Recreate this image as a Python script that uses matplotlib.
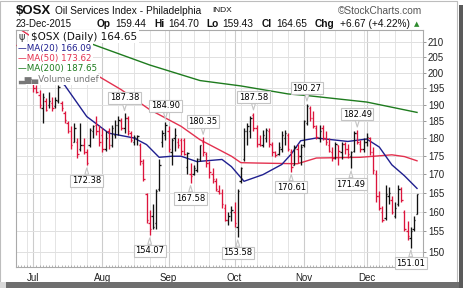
import numpy as np
import pandas as pd
import matplotlib
matplotlib.use("Agg")
import matplotlib.pyplot as plt
from matplotlib.patches import Rectangle
from matplotlib.ticker import FixedLocator, NullLocator

# Торгові дні: 24 червня - 23 грудня 2015 (без свят)
holidays = ["2015-07-03", "2015-09-07", "2015-11-26"]
dates = pd.bdate_range("2015-06-24", "2015-12-23")
dates = dates[~dates.isin(pd.to_datetime(holidays))]

# OHLC по днях (червень, липень, серпень, вересень, жовтень, листопад, грудень)
opens = [209, 207, 206.5, 204, 201.5,
         197, 195, 193, 189, 191, 190, 190.5, 189.5, 191, 190.5, 187.5, 184.5, 182, 179, 179, 177, 178, 176,
         178, 182, 184, 182,
         181, 177, 182, 178, 181, 184, 185, 183, 186, 181.5, 179, 180, 178, 173, 164.5, 157, 159, 157, 166, 179, 181,
         182, 176, 180, 179, 179.5, 179.5, 172, 170, 170, 171, 174, 179, 175.5, 173, 170, 168, 165.5, 165, 161, 158, 160,
         160, 156, 168, 174, 182, 182, 187, 183, 178.3, 178, 180, 182, 178, 176, 175.5, 177, 180, 181, 176, 172.5, 177, 175,
         178, 184.5, 189, 186, 183, 180, 183, 180, 178, 176, 174.5, 178, 176, 178.5, 177, 175, 176.5, 181.5, 178.5, 177,
         179, 180, 176, 170, 164, 160, 158.5, 164, 163, 159, 162, 166, 160, 155, 153.5, 155.5, 159.44]
highs = [210, 208, 207.5, 205, 203,
         197.5, 196, 194.5, 193.5, 192, 194, 192.5, 192.5, 196, 191, 188, 185, 183.5, 184.5, 180, 184.5, 180, 177,
         183, 184, 186.5, 184,
         183, 182, 183, 184, 185.5, 186.5, 186, 187.38, 186.5, 182, 181, 181, 178.7, 174, 165, 160.5, 162, 166, 174, 182.5, 184.9,
         183.5, 180, 183, 180, 180, 180, 176, 173, 172.5, 174.5, 178.2, 180.35, 176.2, 173.5, 171.5, 169, 167, 166, 162, 160, 161.5,
         162.5, 166, 172, 183, 184.5, 186.5, 187.58, 184, 181, 182.5, 183, 183, 179, 176.5, 179, 182, 182.5, 181.5, 177, 178, 178.5, 178.5,
         185.5, 190.27, 189.5, 188, 184, 184, 184, 182, 180, 177.5, 179, 178, 179, 179, 178.5, 176.5, 182, 182.49, 179.5, 180,
         181.5, 180.5, 177.5, 171, 165.3, 161.5, 167, 166.5, 164, 162.5, 167, 166.5, 160.5, 157.5, 156, 159, 164.70]
lows = [206, 204.5, 203.5, 200, 199.5,
        194, 193.5, 189, 184.5, 188, 189, 188, 189, 190.5, 188, 184.5, 181.5, 177, 179, 174.5, 176.5, 175.4, 172.38,
        177.5, 180, 181, 177.8,
        176, 176.5, 177, 177.5, 180, 181, 182.5, 181.5, 181, 179, 178.2, 178, 172.4, 168, 157, 154.07, 155.5, 155.5, 165.5, 177.5, 179.5,
        176, 172.5, 176.5, 177.3, 175.3, 175.3, 170, 167.58, 169.8, 170.5, 173.5, 175, 172, 169, 167.5, 165.5, 164.5, 161, 157.5, 156.5, 157.5,
        156, 153.58, 167.5, 173.5, 178, 180, 182, 177.5, 177.8, 177.5, 179, 177.5, 175, 174.8, 175.2, 176, 178, 176.5, 170.61, 172.5, 173, 172.5,
        177.5, 184, 185, 183, 179.8, 179, 179.5, 178.2, 176, 173.7, 174, 172.5, 174, 175.5, 174.5, 171.49, 176.2, 178.5, 176.2, 176,
        177.8, 175.3, 170, 162.5, 160.5, 157.3, 158, 162, 159.3, 158.3, 161.5, 162.5, 155, 153, 151.01, 155, 159.43]
closes = [206.5, 205, 206, 200.5, 201.5,
          195, 194, 190, 192.5, 188.5, 191, 189, 191.5, 195.5, 189, 185.5, 182, 178, 183, 175.5, 178, 176, 173,
          182.5, 183.5, 182, 179,
          177, 180, 178, 183, 184, 185.5, 183, 186, 182, 179.5, 180.5, 180.8, 173.5, 168.5, 158, 155.5, 156, 165.5, 172.5, 181.5, 184,
          177, 179.5, 181, 178, 176.5, 175.5, 175.7, 169.5, 171.5, 174, 178, 176, 173, 170.5, 168.5, 166, 165, 162, 158, 159, 160.5,
          157, 165.5, 171.5, 182, 183.5, 186, 183, 178.5, 178, 181, 182.5, 178.5, 176, 175.3, 177.5, 181, 181.5, 177, 172, 177.5, 175, 177.5,
          185, 189.5, 186, 183.5, 180.5, 182, 180, 179, 176.5, 174.5, 178.5, 176.5, 178.5, 177, 175.5, 176, 181.5, 179, 177, 179,
          180.5, 176, 171, 164, 161, 158, 164.5, 165, 160, 161, 166, 163, 155.5, 153.8, 155, 157.98, 164.65]

# Ковзні середні (номер торгового дня, 0 = 1 липня)
ma20_day = [-5, 5, 10, 17, 24, 32, 36, 40, 44, 47, 52, 56, 60, 63, 67, 73, 79, 82, 85, 90, 100, 106, 110, 114, 118, 122]
ma20_val = [206, 200, 196, 186.4, 181.5, 180.1, 178.2, 174.6, 174.9, 174.9, 173.4, 173.7, 174.0, 172.0, 168.0, 169.8,
            172.6, 175.5, 179.3, 180.1, 179.1, 179.8, 177.5, 172.5, 169.5, 166.09]
ma50_day = [-5, 0, 20, 28, 34, 37, 47, 53, 60, 63, 66, 71, 84, 90, 104, 114, 118, 122]
ma50_val = [215, 211.5, 199.3, 194.6, 190.5, 188.5, 183.5, 179.6, 176.3, 174.9, 173.1, 173.0, 172.8, 174.4, 174.6, 175.3,
            174.8, 173.62]
ma200_day = [-5, 7, 20, 37, 53, 66, 81, 87, 106, 122]
ma200_val = [216.5, 214, 208.9, 202.5, 197.5, 195.8, 193.3, 192.8, 190.8, 187.65]

# Підписані вершини і западини (номер дня)
peak_days = [29, 42, 54, 70, 87, 103]
trough_days = [17, 37, 50, 65, 82, 101, 120]

yticks = [150, 155, 160, 165, 170, 175, 180, 185, 190, 195, 200, 205, 210]

opens, highs, lows, closes = map(np.array, (opens, highs, lows, closes))
pos = np.arange(len(dates))
jul1 = int(np.where(dates == pd.Timestamp("2015-07-01"))[0][0])

prev = np.r_[opens[0], closes[:-1]]
cols = np.where(closes >= prev, "#111111", "#dc143c")

W, H = 464, 288
fig = plt.figure(figsize=(W / 100, H / 100), dpi=100)
ax = fig.add_axes([16 / W, 1 - 267 / H, (423 - 16) / W, (267 - 30) / H])

# Сітка: тижні та місяці
week_start = [p for p in pos[1:] if dates[p].weekday() < dates[p - 1].weekday()]
month_start = [p for p in pos[1:] if dates[p].month != dates[p - 1].month]
for p in week_start:
    ax.axvline(p, color="#e4e4e4", lw=0.7, zorder=0)
for p in month_start:
    ax.axvline(p, color="#cccccc", lw=0.8, zorder=0)
for v in yticks:
    ax.axhline(v, color="#e0e0e0", lw=0.7, zorder=0)

# Бари OHLC
ax.vlines(pos, lows, highs, colors=cols, lw=0.95, zorder=3)
ax.hlines(opens, pos - 0.45, pos, colors=cols, lw=0.95, zorder=3)
ax.hlines(closes, pos, pos + 0.45, colors=cols, lw=0.95, zorder=3)

ax.plot(np.array(ma200_day) + jul1, ma200_val, color="#1e7b1e", lw=1.0, zorder=2)
ax.plot(np.array(ma50_day) + jul1, ma50_val, color="#e3314f", lw=1.0, zorder=2)
ax.plot(np.array(ma20_day) + jul1, ma20_val, color="#1f1f8f", lw=1.0, zorder=2)

ax.set_yscale("log")
ax.set_ylim(146.4, 214.2)
ax.set_xlim(-0.5, 128.9)

ax.yaxis.set_major_locator(FixedLocator(yticks))
ax.yaxis.set_minor_locator(NullLocator())
ax.set_yticklabels([str(v) for v in yticks])
ax.yaxis.tick_right()
ax.tick_params(axis="y", length=2, width=0.6, color="#888888", pad=1.5,
               labelsize=7, labelcolor="#222222")
for t in ax.get_yticklabels():
    t.set_family("Liberation Sans")

month_ticks = [jul1] + month_start[1:]
ax.xaxis.set_major_locator(FixedLocator(month_ticks))
ax.set_xticklabels([dates[p].strftime("%b") for p in month_ticks])
ax.xaxis.set_minor_locator(FixedLocator(pos))
ax.tick_params(axis="x", which="major", length=0, pad=4, labelsize=7, labelcolor="#222222")
ax.tick_params(axis="x", which="minor", length=1.5, width=0.5, color="#999999", direction="in")
for t in ax.get_xticklabels():
    t.set_family("Liberation Sans")

for s in ax.spines.values():
    s.set_color("#aaaaaa")
    s.set_linewidth(0.8)

# Підписи екстремумів
box = dict(boxstyle="square,pad=0.2", fc="white", ec="#c4c4c4", lw=0.8)
arrow = dict(arrowstyle="wedge,tail_width=0.45,shrink_factor=0.5", fc="white", ec="#c4c4c4",
             lw=0.8, shrinkA=0, shrinkB=2)
for d in peak_days:
    p = d + jul1
    ax.annotate(f"{highs[p]:.2f}", xy=(p, highs[p]), xytext=(0, 8), textcoords="offset points",
                ha="center", va="bottom", fontsize=6, family="DejaVu Sans", bbox=box,
                arrowprops=arrow, zorder=6)
for d in trough_days:
    p = d + jul1
    ax.annotate(f"{lows[p]:.2f}", xy=(p, lows[p]), xytext=(0, -8), textcoords="offset points",
                ha="center", va="top", fontsize=6, family="DejaVu Sans", bbox=box,
                arrowprops=arrow, zorder=6)

# Легенда
leg_bg = dict(boxstyle="square,pad=0.15", fc="white", ec="none")
def ftxt(x, y, s, **kw):
    fig.text(x / W, 1 - y / H, s, va="center", **kw)

ftxt(19, 36.5, "\u03c8", fontsize=7, family="DejaVu Sans", color="#333333", zorder=7)
ftxt(31, 36.5, f"$OSX (Daily) {closes[-1]:.2f}", fontsize=7.5, family="DejaVu Sans",
     color="#111111", bbox=leg_bg, zorder=7)
ftxt(18, 48, f"\u2014MA(20) {ma20_val[-1]:.2f}", fontsize=6.3, family="DejaVu Sans",
     color="#1f1f8f", bbox=leg_bg, zorder=7)
ftxt(18, 58.5, f"\u2014MA(50) {ma50_val[-1]:.2f}", fontsize=6.3, family="DejaVu Sans",
     color="#e3314f", bbox=leg_bg, zorder=7)
ftxt(18, 69, f"\u2014MA(200) {ma200_val[-1]:.2f}", fontsize=6.3, family="DejaVu Sans",
     color="#1e7b1e", bbox=leg_bg, zorder=7)
ftxt(18, 79.5, "\u2583\u2586\u2584Volume undef", fontsize=6.3, family="DejaVu Sans",
     color="#777777", bbox=leg_bg, zorder=7)

# Заголовок
ftxt(16, 11, "$OSX", fontsize=9.5, weight="bold", family="Liberation Sans", color="#111111")
ftxt(55, 11, "Oil Services Index - Philadelphia", fontsize=7.3, family="Liberation Sans", color="#111111")
ftxt(212, 11, "INDX", fontsize=6, family="Liberation Sans", color="#111111")
fig.text(422 / W, 1 - 11 / H, "\u00a9StockCharts.com", ha="right", va="center", fontsize=7.3,
         family="Liberation Sans", color="#555555")

last = dates[-1]
chg = closes[-1] - closes[-2]
ftxt(16, 24, last.strftime("%d-%b-%Y"), fontsize=7, family="Liberation Sans", color="#111111")
hdr = [(97, "Op", 115, f"{opens[-1]:.2f}"), (154, "Hi", 168, f"{highs[-1]:.2f}"),
       (206, "Lo", 222, f"{lows[-1]:.2f}"), (262, "Cl", 276, f"{closes[-1]:.2f}"),
       (315, "Chg", 340, f"{chg:+.2f} ({chg / closes[-2] * 100:+.2f}%)")]
for xl, lab, xv, val in hdr:
    ftxt(xl, 24, lab, fontsize=7.3, weight="bold", family="Liberation Sans", color="#111111")
    ftxt(xv, 24, val, fontsize=7.3, family="Liberation Sans", color="#111111")
ftxt(414, 24.5, "\u25b2", fontsize=5, family="DejaVu Sans", color="#2e8b2e")

# Рамка зображення з тінню
fig.patches.append(Rectangle((0, 0), 457 / W, 1 - 0.5 / H, transform=fig.transFigure,
                             fill=False, ec="#bdbdbd", lw=0.8))
fig.patches.append(Rectangle((0, 0), 1, 1 - 282 / H, transform=fig.transFigure,
                             fc="#6e6e6e", ec="none"))
fig.patches.append(Rectangle((459 / W, 0), 5 / W, 1 - 5 / H, transform=fig.transFigure,
                             fc="#5a5a5a", ec="none"))
fig.patches.append(Rectangle((0, 0), 6 / W, 1 - 282 / H, transform=fig.transFigure,
                             fc="#d8d8d8", ec="none"))

fig.savefig("out.png", dpi=100)
